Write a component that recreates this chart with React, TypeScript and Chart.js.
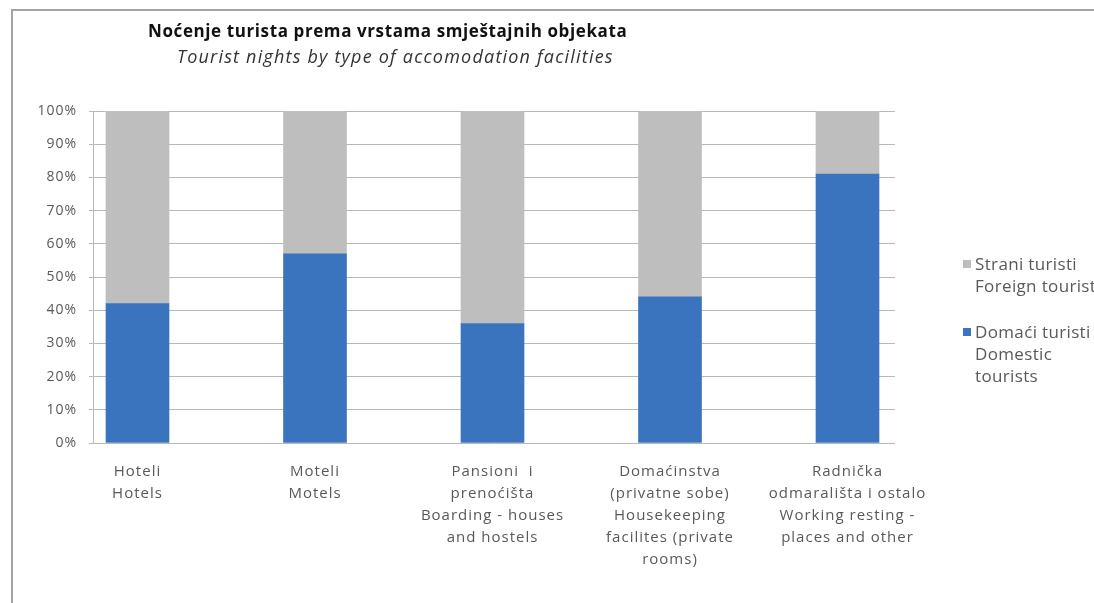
import React, { useEffect, useRef } from "react";
import { Chart, registerables } from "chart.js";

Chart.register(...registerables);

const titleText = "Noćenje turista prema vrstama smještajnih objekata";
const subtitleText = "Tourist nights by type of accomodation facilities";

const categories: string[][] = [
  ["Hoteli", "Hotels"],
  ["Moteli", "Motels"],
  ["Pansioni  i", "prenoćišta", "Boarding - houses", "and hostels"],
  ["Domaćinstva", "(privatne sobe)", "Housekeeping", "facilites (private", "rooms)"],
  ["Radnička", "odmarališta i ostalo", "Working resting -", "places and other"],
];

const domesticLabel = ["Domaći turisti", "Domestic", "tourists"];
const foreignLabel = ["Strani turisti", "Foreign tourists"];

const domesticValues = [42, 57, 36, 44, 81];
const foreignValues = [58, 43, 64, 56, 19];

const yTickValues = [0, 10, 20, 30, 40, 50, 60, 70, 80, 90, 100];

const BLUE = "#3b74be";
const GRAY = "#bebebe";
const TEXT = "#595959";

const letterSpacingPlugin = {
  id: "letterSpacing",
  beforeUpdate: (chart: any) => {
    try {
      chart.ctx.letterSpacing = "1px";
    } catch (e) {}
  },
  beforeDraw: (chart: any) => {
    try {
      chart.ctx.letterSpacing = "1px";
    } catch (e) {}
  },
};

export default function App() {
  const ref = useRef<HTMLCanvasElement>(null);

  useEffect(() => {
    document.body.style.margin = "0";
    const chart = new Chart(ref.current as HTMLCanvasElement, {
      type: "bar",
      plugins: [letterSpacingPlugin],
      data: {
        datasets: [
          {
            label: domesticLabel.join(" "),
            data: domesticValues.map((v, i) => ({ x: i, y: v })),
            backgroundColor: BLUE,
            borderWidth: 0,
            barThickness: 63,
          },
          {
            label: foreignLabel.join(" "),
            data: foreignValues.map((v, i) => ({ x: i, y: v })),
            backgroundColor: GRAY,
            borderWidth: 0,
            barThickness: 63,
          },
        ],
      },
      options: {
        animation: false,
        responsive: false,
        layout: { padding: { top: 111, right: 199, left: 0, bottom: 0 } },
        plugins: {
          legend: { display: false },
          tooltip: { enabled: false },
          title: { display: false },
        },
        scales: {
          x: {
            type: "linear",
            stacked: true,
            offset: false,
            min: -0.2507,
            max: 4.2676,
            grid: { display: false, drawTicks: false, offset: false },
            border: { display: false },
            afterBuildTicks: (scale: any) => {
              scale.ticks = categories.map((_, i) => ({ value: i }));
            },
            afterFit: (scale: any) => {
              scale.height = 160;
            },
            ticks: {
              autoSkip: false,
              maxRotation: 0,
              minRotation: 0,
              padding: 18,
              color: TEXT,
              font: { family: "'Open Sans'", size: 15, lineHeight: 22 / 15 },
              callback: (value: any) => categories[Number(value)] ?? "",
            },
          },
          y: {
            type: "linear",
            stacked: true,
            min: 0,
            max: 100,
            afterBuildTicks: (scale: any) => {
              scale.ticks = yTickValues.map((v) => ({ value: v }));
            },
            afterFit: (scale: any) => {
              scale.width = 93;
            },
            grid: {
              color: "#b8b8b8",
              lineWidth: 1,
              drawTicks: true,
              tickLength: 4,
            },
            border: { display: true, color: "#b8b8b8", width: 1 },
            ticks: {
              padding: 12,
              color: TEXT,
              font: { family: "'Open Sans'", size: 14 },
              callback: (value: any) => value + "%",
            },
          },
        },
      },
    } as any);
    return () => chart.destroy();
  }, []);

  const legendText: React.CSSProperties = {
    position: "absolute",
    left: 975,
    fontFamily: "'Open Sans'",
    fontSize: 17,
    lineHeight: "22px",
    letterSpacing: "0.35px",
    color: TEXT,
    whiteSpace: "nowrap",
  };

  return (
    <div
      style={{
        position: "fixed",
        left: 0,
        top: 0,
        width: 1094,
        height: 603,
        background: "#ffffff",
        overflow: "hidden",
      }}
    >
      <div
        style={{
          position: "absolute",
          left: 11,
          top: 9,
          width: 1200,
          height: 700,
          borderTop: "2px solid #a3a3a3",
          borderLeft: "2px solid #a3a3a3",
        }}
      />
      <canvas
        ref={ref}
        width={1094}
        height={603}
        style={{ position: "absolute", left: 0, top: 0, width: 1094, height: 603 }}
      />
      <div
        style={{
          position: "absolute",
          left: 148,
          top: 19,
          fontFamily: "'Open Sans'",
          fontWeight: 700,
          fontSize: 17,
          lineHeight: "24px",
          letterSpacing: "0.6px",
          color: "#111",
          whiteSpace: "nowrap",
        }}
      >
        {titleText}
      </div>
      <div
        style={{
          position: "absolute",
          left: 177,
          top: 44,
          fontFamily: "'Open Sans'",
          fontStyle: "italic",
          fontSize: 18,
          lineHeight: "24px",
          letterSpacing: "1.2px",
          color: "#333",
          whiteSpace: "nowrap",
        }}
      >
        {subtitleText}
      </div>
      <div style={{ position: "absolute", left: 963, top: 260, width: 8, height: 8, background: GRAY }} />
      <div style={{ ...legendText, top: 253 }}>
        {foreignLabel.map((t, i) => (
          <div key={i}>{t}</div>
        ))}
      </div>
      <div style={{ position: "absolute", left: 963, top: 328, width: 8, height: 8, background: BLUE }} />
      <div style={{ ...legendText, top: 321 }}>
        {domesticLabel.map((t, i) => (
          <div key={i}>{t}</div>
        ))}
      </div>
    </div>
  );
}
